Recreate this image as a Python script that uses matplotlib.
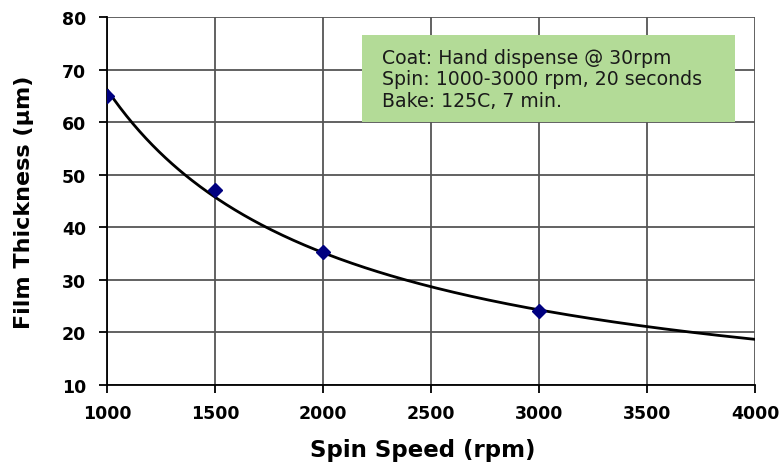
import numpy as np
import matplotlib
matplotlib.use("Agg")
import matplotlib.pyplot as plt
from matplotlib.patches import Rectangle

# Datos medidos
spin_speed = [1000, 1500, 2000, 3000]
thickness = [65, 47, 35.3, 24]
x_ticks = [1000, 1500, 2000, 2500, 3000, 3500, 4000]
y_ticks = [10, 20, 30, 40, 50, 60, 70, 80]
note_lines = ["Coat: Hand dispense @ 30rpm",
              "Spin: 1000-3000 rpm, 20 seconds",
              "Bake: 125C, 7 min."]

# Linea de tendencia potencial (ajuste log-log)
b, a = np.polyfit(np.log(spin_speed), np.log(thickness), 1)
xs = np.linspace(x_ticks[0], x_ticks[-1], 300)
ys = np.exp(a) * xs ** b

fig = plt.figure(figsize=(7.83, 4.64), dpi=100)
ax = fig.add_axes([107 / 783, 1 - 386 / 464, (755 - 107) / 783, (386 - 18) / 464])

ax.plot(xs, ys, color="black", lw=2, zorder=3)
ax.plot(spin_speed, thickness, "D", color="#000080", ms=7, zorder=4)

ax.set_xlim(1000, 4000)
ax.set_ylim(10, 80)
ax.set_xticks(x_ticks)
ax.set_yticks(y_ticks)
ax.grid(True, color="#555555", lw=1.3)
ax.set_axisbelow(True)
for s in ["top", "right"]:
    ax.spines[s].set_visible(False)
for s in ["left", "bottom"]:
    ax.spines[s].set_linewidth(1.3)
ax.tick_params(direction="out", length=6, width=1.3, labelsize=12.5)
ax.tick_params(axis="y", pad=9)
ax.tick_params(axis="x", pad=8)
for lab in ax.get_xticklabels() + ax.get_yticklabels():
    lab.set_fontweight("bold")

ax.set_xlabel("Spin Speed (rpm)", fontsize=16.5, fontweight="bold")
ax.xaxis.set_label_coords(0.488, -0.145)
ax.set_ylabel("Film Thickness (µm)", fontsize=16, fontweight="bold")
ax.yaxis.set_label_coords(-0.112, 0.5)

# Cuadro de condiciones
ax.add_patch(Rectangle((0.3935, 0.7147), 0.5755, 0.2363, transform=ax.transAxes,
                       fc="#b3db97", ec="none", zorder=5, clip_on=False))
for i, line in enumerate(note_lines):
    ax.text(0.4244, 0.891 - i * 0.0584, line, transform=ax.transAxes,
            fontsize=13.6, color="#1a1a1a", va="center", ha="left", zorder=6)

plt.savefig("out.png", dpi=100)
plt.close()
